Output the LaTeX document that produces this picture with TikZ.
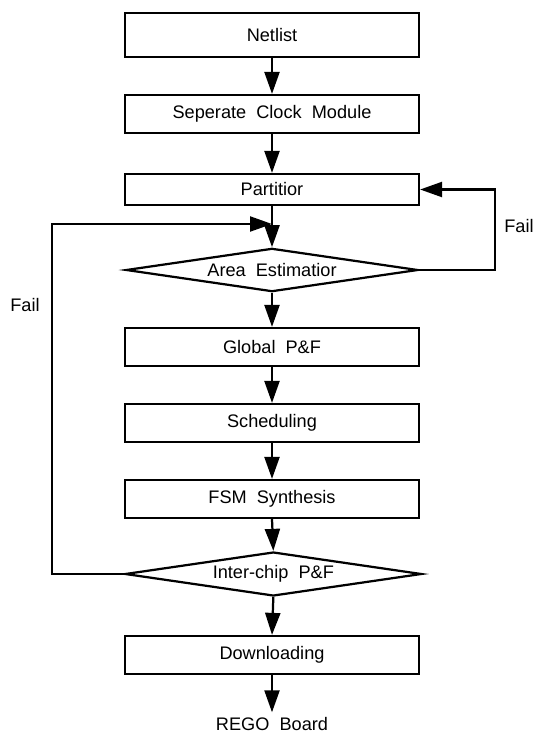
\documentclass[tikz,border=0pt]{standalone}
\usepackage{fontspec}
\setmainfont{Liberation Sans}
\usetikzlibrary{arrows.meta,shapes.geometric,calc}

\begin{document}
\begin{tikzpicture}[>={Triangle[length=0.66cm,width=0.45cm]}, line width=1.9pt,
  stage/.style={draw, font=\fontsize{15.5}{18}\selectfont, minimum width=8.82cm, minimum height=1.14cm, inner sep=0pt, align=center},
  check/.style={draw, diamond, aspect=7, font=\fontsize{15.5}{18}\selectfont, minimum width=8.76cm, minimum height=1.3cm, inner sep=0pt},
  lbl/.style={font=\fontsize{15.5}{18}\selectfont}]
\useasboundingbox (0,0) rectangle (16.02,-21.99);
\node[stage, minimum height=1.32cm] (net)   at (8.16,-1.05)  {Netlist};
\node[stage]                        (clk)   at (8.16,-3.42)  {Seperate~~Clock~~Module};
\node[stage, minimum height=0.93cm] (part)  at (8.16,-5.685) {Partitior};
\node[check]                        (area)  at (8.16,-8.1)   {Area~~Estimatior};
\node[stage]                        (glob)  at (8.16,-10.41) {Global~~P\&F};
\node[stage]                        (sched) at (8.16,-12.69) {Scheduling};
\node[stage]                        (fsm)   at (8.16,-14.97) {FSM~~Synthesis};
\node[check, minimum height=1.32cm, minimum width=8.9cm] (inter) at (8.2,-17.22) {Inter-chip~~P\&F};
\node[stage]                        (down)  at (8.16,-19.65) {Downloading};
\node[lbl]                          (rego)  at (8.16,-21.72) {REGO~~Board};
\coordinate (join) at (8.16,-6.72);
% main flow
\foreach \a/\b in {net/clk,clk/part,part/area,area/glob,glob/sched,sched/fsm,fsm/inter,inter/down,down/rego}
  \draw[->] (\a.south) -- (\b.north);
% fail loops
\draw[->] (area.east) -- ++(2.28,0) |- (part.east);
\draw[->] (inter.west) -- ++(-2.16,0) |- (join);
\node[lbl] (failr) at (15.57,-6.78) {Fail};
\node[lbl] (faill) at (0.75,-9.15) {Fail};
\end{tikzpicture}
\end{document}
